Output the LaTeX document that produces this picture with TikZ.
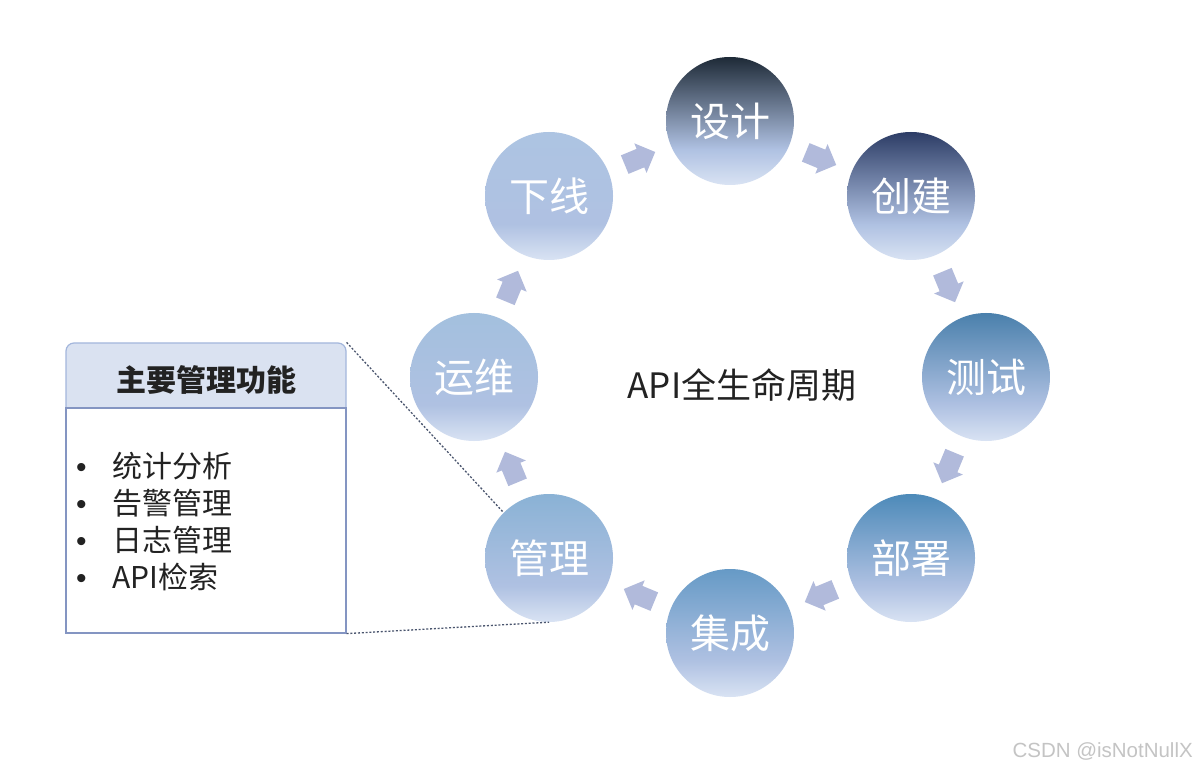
\documentclass[tikz,border=0pt]{standalone}
\usepackage{fontspec}
\setmainfont{Noto Sans CJK SC}
\newfontfamily\wmfont{Liberation Sans}
\usetikzlibrary{calc}
\definecolor{lowc}{HTML}{D9E3F3}
\definecolor{midc}{HTML}{AFC1E2}
\colorlet{topc}{midc}
\definecolor{arrowblue}{HTML}{B1BADB}
\definecolor{hdrfill}{HTML}{DAE2F1}
\definecolor{hdrline}{HTML}{A3B6DC}
\definecolor{bodyline}{HTML}{8495C2}
\definecolor{dotline}{HTML}{4A556E}
\definecolor{wmgray}{HTML}{C4C4C4}
\definecolor{txtdark}{HTML}{222222}
\definecolor{tsj}{HTML}{1E2A37}
\definecolor{tcj}{HTML}{2D3D66}
\definecolor{tcs}{HTML}{4A80AC}
\definecolor{tbs}{HTML}{4D8AB9}
\definecolor{tjc}{HTML}{669AC6}
\definecolor{tgl}{HTML}{8AB2D5}
\definecolor{tyw}{HTML}{A3C0DE}
\definecolor{txx}{HTML}{ADC4E2}
\pgfdeclareverticalshading[topc,midc,lowc]{cshade}{100bp}{color(0bp)=(lowc); color(25bp)=(lowc); color(39bp)=(midc); color(75bp)=(topc); color(100bp)=(topc)}
\tikzset{
  stage/.style={circle, minimum size=128pt, inner sep=0pt, text=white,
    font=\fontsize{40}{48}\selectfont, /utils/exec={\colorlet{topc}{#1}}, shade, shading=cshade},
  blockarr/.style={fill=arrowblue},
  hdrbox/.style={draw=hdrline, fill=hdrfill, line width=1.2pt, rounded corners=8pt, text=txtdark,
    minimum width=280pt, minimum height=73pt, inner sep=0pt, font=\bfseries\fontsize{30}{36}\selectfont},
  bodybox/.style={draw=bodyline, fill=white, line width=1.2pt, minimum width=280pt, minimum height=225pt, inner sep=0pt},
  listitem/.style={anchor=base west, inner sep=0pt, text=txtdark, font=\fontsize{30}{36}\selectfont},
  dotconn/.style={draw=dotline, line width=1.3pt, dash pattern=on 2pt off 1.8pt},
}
\newcommand\bkarrow[3]{%
  \begin{scope}[shift={($(#1)!0.5!(#2)$)}, rotate=#3]
    \fill[blockarr] (-16,-10) -- (1,-10) -- (1,-16) -- (17,0) -- (1,16) -- (1,10) -- (-16,10) -- cycle;
  \end{scope}}
\begin{document}
\begin{tikzpicture}[x=1pt,y=-1pt]
\useasboundingbox[fill=white] (0,0) rectangle (1199,775);
% box
\node[hdrbox] (hd) at (206,379.5) {主要管理功能};
\node[bodybox] (bd) at (206,520.5) {};
\node[listitem] (l1) at (76,477) {\makebox[36pt][l]{\wmfont •}统计分析};
\node[listitem] (l2) at (76,514) {\makebox[36pt][l]{\wmfont •}告警管理};
\node[listitem] (l3) at (76,551) {\makebox[36pt][l]{\wmfont •}日志管理};
\node[listitem] (l4) at (76,588) {\makebox[36pt][l]{\wmfont •}API检索};
% stages
\node[stage=tsj] (sj) at (730,121) {设计};
\node[stage=tcj] (cj) at (911,196) {创建};
\node[stage=tcs] (cs) at (986,377) {测试};
\node[stage=tbs] (bs) at (911,558) {部署};
\node[stage=tjc] (jc) at (730,633) {集成};
\node[stage=tgl] (gl) at (549,558) {管理};
\node[stage=tyw] (yw) at (474,377) {运维};
\node[stage=txx] (xx) at (549,196) {下线};
\path[dotconn] (hd.north east) -- (gl.135);
\path[dotconn] (bd.south east) -- (gl.south);
\node[font=\fontsize{35}{42}\selectfont, text=txtdark] (title) at (742,385) {API全生命周期};
% arrows
\bkarrow{xx}{sj}{22.5}
\bkarrow{sj}{cj}{-22.5}
\bkarrow{cj}{cs}{-67.5}
\bkarrow{cs}{bs}{-112.5}
\bkarrow{bs}{jc}{-157.5}
\bkarrow{jc}{gl}{157.5}
\bkarrow{gl}{yw}{112.5}
\bkarrow{yw}{xx}{67.5}
\node[anchor=base east, inner sep=0pt, text=wmgray, font=\wmfont\fontsize{20.5}{24}\selectfont] (wm) at (1193,757.5) {CSDN @isNotNullX};
\end{tikzpicture}
\end{document}
